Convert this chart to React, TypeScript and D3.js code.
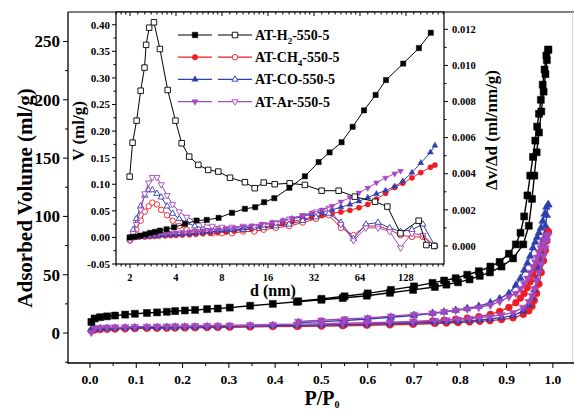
import React from 'react';
import * as d3 from 'd3';

// ---------------- main isotherm data ----------------
const adsP = [0.003, 0.01, 0.022, 0.037, 0.054, 0.076, 0.097, 0.123, 0.145, 0.166, 0.184, 0.205, 0.227, 0.253, 0.276, 0.302, 0.346, 0.395, 0.447, 0.5, 0.546, 0.598, 0.648, 0.698, 0.745, 0.77, 0.795, 0.82, 0.842, 0.864, 0.889, 0.914, 0.936, 0.948, 0.955, 0.96, 0.965, 0.97, 0.975, 0.98, 0.984, 0.987, 0.99];
const desP = [0.99, 0.986, 0.982, 0.978, 0.974, 0.97, 0.966, 0.962, 0.957, 0.951, 0.945, 0.938, 0.93, 0.92, 0.905, 0.885, 0.865, 0.84, 0.815, 0.79, 0.765, 0.74, 0.7, 0.65, 0.6, 0.55, 0.5, 0.45];

const h2Ads = [9.5, 12.5, 13.6, 14.3, 15, 15.8, 16.5, 17.2, 17.7, 18.2, 18.8, 19.3, 19.8, 20.5, 21, 21.8, 23.4, 25, 26.8, 28.5, 30, 32, 34.5, 37, 39.5, 41.5, 43.5, 46, 49, 52, 57, 64, 76, 92, 115, 135, 155, 172, 190, 207, 222, 234, 243];
const h2Des = [243, 238, 226, 213, 200, 188, 177, 165, 151, 135, 118, 100, 86, 76, 68, 61, 57, 53, 50, 47, 45, 43, 40, 37, 34, 31.5, 29.3, 27.2];
const ch4Ads = [2.0, 2.6, 3.0, 3.2, 3.4, 3.6, 3.8, 4.0, 4.1, 4.2, 4.3, 4.4, 4.5, 4.7, 4.8, 5.0, 5.2, 5.5, 5.8, 6.0, 6.3, 6.7, 7.0, 7.5, 8.2, 8.6, 9.0, 9.5, 10.0, 10.6, 11.5, 13, 16, 19, 23, 28, 34, 42, 52, 62, 71, 79, 87];
const ch4Des = [87, 85, 80, 75, 70, 65, 60, 55, 50, 44, 39, 34, 30, 26, 22, 18.5, 16, 14, 12.8, 11.8, 11, 10.3, 9.5, 8.6, 7.8, 7.2, 6.6, 6.0];
const coAds = [3.0, 3.5, 3.8, 4.0, 4.2, 4.4, 4.5, 4.7, 4.8, 4.9, 5.0, 5.1, 5.2, 5.4, 5.5, 5.7, 6.0, 6.3, 6.6, 6.9, 7.2, 7.6, 8.0, 8.5, 9.2, 9.6, 10.0, 10.6, 11.2, 12.0, 13.2, 15, 19, 24, 30, 37, 46, 56, 68, 80, 92, 101, 110];
const coDes = [110, 108, 102, 96, 90, 86, 82, 78, 73, 66, 60, 54, 47, 41, 34, 29.5, 26, 23, 21, 19.5, 18, 17, 15, 13.5, 12, 10.8, 9.8, 9.0];
const arAds = [0.5, 4.2, 4.6, 4.9, 5.1, 5.3, 5.5, 5.7, 5.8, 5.9, 6.0, 6.1, 6.2, 6.4, 6.5, 6.7, 7.0, 7.3, 7.6, 8.0, 8.4, 8.8, 9.3, 9.9, 10.7, 11.2, 11.8, 12.5, 13.3, 14.2, 15.6, 17.5, 22, 27, 32, 38, 45, 52, 59, 66, 73, 79, 84];
const arDes = [84, 83, 80, 77, 73, 69, 65, 61, 57, 52, 47, 42.5, 38, 34, 31, 27, 24, 22, 20.5, 19.5, 18.3, 17, 16, 14.5, 13, 12, 11, 10];

// ---------------- inset (pore size) data ----------------
const h2CumD = [1.99, 2.16, 2.33, 2.51, 2.70, 2.91, 3.14, 3.47, 3.88, 4.58, 5.46, 6.36, 7.6, 9.3, 11.3, 13.2, 15.1, 17.6, 22.1, 27.9, 34.3, 40.5, 48.5, 57.3, 68, 81, 94.7, 122.8, 155.5, 186];
const h2CumV = [0.000, 0.0015, 0.0034, 0.0058, 0.0085, 0.0104, 0.0128, 0.0153, 0.019, 0.0255, 0.0317, 0.033, 0.0368, 0.0462, 0.0538, 0.0568, 0.0662, 0.0738, 0.0934, 0.115, 0.1417, 0.16, 0.179, 0.208, 0.239, 0.268, 0.296, 0.327, 0.356, 0.385];
const h2PsdD = [1.99, 2.08, 2.21, 2.35, 2.49, 2.55, 2.67, 2.87, 3.14, 3.53, 3.97, 4.36, 4.88, 5.60, 6.50, 7.57, 9.03, 11.3, 13.1, 15.0, 17.7, 22.2, 27.9, 35.9, 46.4, 59.2, 80.2, 96.7, 117.8, 155, 174, 196];
const h2PsdR = [0.00384, 0.00572, 0.00694, 0.0086, 0.00988, 0.01114, 0.01209, 0.01239, 0.01091, 0.00864, 0.00694, 0.00569, 0.00495, 0.00449, 0.00421, 0.00412, 0.00378, 0.00353, 0.0032, 0.00351, 0.00342, 0.00347, 0.00338, 0.00306, 0.00306, 0.00273, 0.00245, 0.00218, 0.0007, 0.0014, 0.00005, 0.0];

const cumD = [2.0, 2.15, 2.3, 2.5, 2.7, 2.9, 3.1, 3.4, 3.7, 4.0, 4.4, 4.9, 5.4, 6.0, 6.7, 7.5, 8.5, 9.6, 11, 12.5, 14.5, 17, 20, 23, 27, 31, 36, 42, 48, 55, 63, 72, 82, 94, 108, 122, 140, 160, 185, 198];
const ch4CumV = [0.000, 0.0003, 0.0006, 0.001, 0.0015, 0.002, 0.0025, 0.003, 0.0035, 0.004, 0.0045, 0.005, 0.006, 0.007, 0.008, 0.009, 0.010, 0.012, 0.014, 0.016, 0.019, 0.022, 0.026, 0.030, 0.034, 0.038, 0.041, 0.045, 0.048, 0.051, 0.056, 0.062, 0.072, 0.083, 0.094, 0.102, 0.112, 0.122, 0.132, 0.136];
const coCumV = [0.000, 0.0005, 0.001, 0.0015, 0.002, 0.003, 0.0035, 0.004, 0.005, 0.0055, 0.006, 0.007, 0.008, 0.009, 0.010, 0.012, 0.013, 0.015, 0.017, 0.020, 0.023, 0.027, 0.031, 0.035, 0.039, 0.044, 0.048, 0.052, 0.057, 0.062, 0.068, 0.075, 0.082, 0.088, 0.096, 0.106, 0.122, 0.140, 0.160, 0.173];
const arCumD = [2.0, 2.15, 2.3, 2.5, 2.7, 2.9, 3.1, 3.4, 3.7, 4.0, 4.4, 4.9, 5.4, 6.0, 6.7, 7.5, 8.5, 9.6, 11, 12.5, 14.5, 17, 20, 23, 27, 31, 36, 42, 48, 55, 63, 72, 82, 94, 108, 118];
const arCumV = [0.000, 0.001, 0.002, 0.003, 0.004, 0.005, 0.006, 0.007, 0.008, 0.009, 0.010, 0.011, 0.012, 0.013, 0.014, 0.015, 0.017, 0.018, 0.020, 0.022, 0.025, 0.028, 0.032, 0.036, 0.041, 0.046, 0.052, 0.059, 0.067, 0.075, 0.084, 0.093, 0.103, 0.112, 0.120, 0.125];

const psdD = [2.0, 2.1, 2.2, 2.35, 2.5, 2.65, 2.8, 3.0, 3.2, 3.5, 3.8, 4.2, 4.7, 5.3, 6.0, 6.9, 8.0, 9.3, 11, 13, 15, 18, 22, 27, 33, 40, 48, 58, 70, 84, 100, 118, 140, 165, 198];
const ch4PsdR = [0.0003, 0.0006, 0.0009, 0.0014, 0.0019, 0.0022, 0.0024, 0.0023, 0.0020, 0.0017, 0.0014, 0.0011, 0.0009, 0.0008, 0.0008, 0.0007, 0.0007, 0.0007, 0.0008, 0.0008, 0.0009, 0.0010, 0.0011, 0.0013, 0.0015, 0.0017, 0.0010, 0.0006, 0.0011, 0.0011, 0.0009, 0.0006, 0.0005, 0.0005, 0.0];
const coPsdR = [0.0004, 0.0009, 0.0015, 0.0022, 0.0028, 0.0031, 0.0031, 0.0029, 0.0027, 0.0022, 0.0018, 0.0015, 0.0013, 0.0011, 0.0010, 0.0009, 0.0009, 0.0009, 0.0009, 0.0010, 0.0010, 0.0011, 0.0012, 0.0014, 0.0016, 0.0018, 0.0013, 0.0004, 0.0012, 0.0013, 0.0010, 0.0008, 0.0009, 0.0012, 0.0];
const arPsdR = [0.0003, 0.0007, 0.0012, 0.0020, 0.0029, 0.0035, 0.0038, 0.0038, 0.0034, 0.0028, 0.0023, 0.0019, 0.0016, 0.0014, 0.0012, 0.0011, 0.00105, 0.00105, 0.0011, 0.0011, 0.0012, 0.0013, 0.0015, 0.0017, 0.0019, 0.0021, 0.0012, 0.0003, 0.0010, 0.0010, 0.0008, -0.0001, 0.0007, 0.0006, 0.0];

// ---------------- ticks ----------------
const mainXTicks = [0, 0.1, 0.2, 0.3, 0.4, 0.5, 0.6, 0.7, 0.8, 0.9, 1.0];
const mainXMinor = [0.05, 0.15, 0.25, 0.35, 0.45, 0.55, 0.65, 0.75, 0.85, 0.95, 1.05];
const mainYTicks = [0, 50, 100, 150, 200, 250];
const mainYMinor = [-25, 25, 75, 125, 175, 225];
const inXTicks = [2, 4, 8, 16, 32, 64, 128];
const inXMinor = [1.625, 1.75, 1.875, 2.25, 2.5, 2.75, 3, 3.25, 3.5, 3.75, 4.5, 5, 5.5, 6, 6.5, 7, 7.5, 9, 10, 11, 12, 13, 14, 15, 18, 20, 22, 24, 26, 28, 30, 36, 40, 44, 48, 52, 56, 60, 72, 80, 88, 96, 104, 112, 120, 144, 160, 176, 192, 208, 224];
const inYLTicks = [-0.05, 0, 0.05, 0.1, 0.15, 0.2, 0.25, 0.3, 0.35, 0.4];
const inYLMinor = [-0.025, 0.025, 0.075, 0.125, 0.175, 0.225, 0.275, 0.325, 0.375];
const inYRTicks = [0, 0.002, 0.004, 0.006, 0.008, 0.01, 0.012];
const inYRMinor = [0.001, 0.003, 0.005, 0.007, 0.009, 0.011];

const legendNames = [
  ['AT-H', '2', '-550-5'],
  ['AT-CH', '4', '-550-5'],
  ['AT-CO', '', '-550-5'],
  ['AT-Ar', '', '-550-5'],
];

const FONT = '"Liberation Serif", "Times New Roman", Times, serif';
const BLACK = '#000000';
const RED = '#ee1d25';
const BLUE = '#2f3fae';
const PURPLE = '#a648bd';

const colors = [BLACK, RED, BLUE, PURPLE];
const shapes = ['square', 'circle', 'up', 'down'];

// ---------------- scales ----------------
const xMain = d3.scaleLinear().domain([-0.0475, 1.037]).range([68, 570]);
const yMain = d3.scaleLinear().domain([-25.7, 275.3]).range([363, 12]);
const xIn = d3.scaleLog().base(2).domain([1.62, 227]).range([116, 444]);
const yInL = d3.scaleLinear().domain([-0.05, 0.424]).range([264, 12]);
const yInR = d3.scaleLinear().domain([-0.001, 0.01296]).range([264, 12]);

function symPath(shape: string, size: number): string {
  let type: any = d3.symbolSquare;
  let area = size * size;
  if (shape === 'circle') {
    type = d3.symbolCircle;
    area = Math.PI * (size / 2) * (size / 2);
  } else if (shape === 'up' || shape === 'down') {
    type = d3.symbolTriangle;
    area = size * size * 0.55;
  }
  return d3.symbol().type(type).size(area)() || '';
}

function Marker({ shape, x, y, size, color, open }: any) {
  const rot = shape === 'down' ? 180 : 0;
  return (
    <path
      d={symPath(shape, size)}
      transform={`translate(${x},${y}) rotate(${rot})`}
      fill={open ? '#ffffff' : color}
      stroke={color}
      strokeWidth={open ? 0.9 : 0.5}
    />
  );
}

function Series({ xs, ys, xs2, color, shape, open, size, lw }: any) {
  const pts = xs.map((v: number, i: number) => [xs2(v), ys[i]] as [number, number]);
  const line = d3.line();
  return (
    <g>
      <path d={line(pts) || ''} fill="none" stroke={color} strokeWidth={lw} />
      {pts.map((p: [number, number], i: number) => (
        <Marker key={i} shape={shape} x={p[0]} y={p[1]} size={size} color={color} open={open} />
      ))}
    </g>
  );
}

export default function App() {
  const mainSeries = [
    { ads: h2Ads, des: h2Des },
    { ads: ch4Ads, des: ch4Des },
    { ads: coAds, des: coDes },
    { ads: arAds, des: arDes },
  ];
  const drawOrder = [1, 2, 3, 0];

  const cumSeries = [
    { d: h2CumD, v: h2CumV },
    { d: cumD, v: ch4CumV },
    { d: cumD, v: coCumV },
    { d: arCumD, v: arCumV },
  ];
  const psdSeries = [
    { d: h2PsdD, r: h2PsdR },
    { d: psdD, r: ch4PsdR },
    { d: psdD, r: coPsdR },
    { d: psdD, r: arPsdR },
  ];
  const inOrder = [1, 2, 3, 0];

  const tickStyle = { stroke: '#000', strokeWidth: 1 };

  return (
    <div style={{ position: 'absolute', left: 0, top: 0 }}>
      <svg width={574} height={412} viewBox="0 0 574 412" style={{ display: 'block', background: '#fff' }} fontFamily={FONT} fontWeight="bold">
        <rect x={0} y={0} width={574} height={412} fill="#fff" />

        {/* ---------- main curves ---------- */}
        {drawOrder.map((k) => {
          const s = mainSeries[k];
          const sz = k === 0 ? 7 : 6.8;
          return (
            <g key={k}>
              <Series xs={adsP} ys={s.ads.map((v) => yMain(v))} xs2={xMain} color={colors[k]} shape={shapes[k]} open={false} size={sz} lw={1.4} />
              <Series xs={desP} ys={s.des.map((v) => yMain(v))} xs2={xMain} color={colors[k]} shape={shapes[k]} open={false} size={sz} lw={1.4} />
            </g>
          );
        })}

        {/* ---------- main axes ---------- */}
        <line x1={68} y1={12} x2={574} y2={12} {...tickStyle} />
        <line x1={572.5} y1={12} x2={572.5} y2={363} stroke="#d8d8d8" strokeWidth={1} />
        <line x1={68} y1={12} x2={68} y2={363.5} stroke="#000" strokeWidth={1.3} />
        <line x1={67.5} y1={363} x2={574} y2={363} stroke="#000" strokeWidth={1.3} />
        {mainXTicks.map((t) => (
          <g key={'mx' + t}>
            <line x1={xMain(t)} x2={xMain(t)} y1={363} y2={368} {...tickStyle} />
            <text x={xMain(t)} y={384} textAnchor="middle" fontSize={13.5}>{t.toFixed(1)}</text>
          </g>
        ))}
        {mainXMinor.map((t) => (
          <line key={'mxm' + t} x1={xMain(t)} x2={xMain(t)} y1={363} y2={366} {...tickStyle} />
        ))}
        {mainYTicks.map((t) => (
          <g key={'my' + t}>
            <line x1={63} x2={68} y1={yMain(t)} y2={yMain(t)} {...tickStyle} />
            <text x={60} y={yMain(t)} dy="0.35em" textAnchor="end" fontSize={17}>{t}</text>
          </g>
        ))}
        {mainYMinor.map((t) => (
          <line key={'mym' + t} x1={65} x2={68} y1={yMain(t)} y2={yMain(t)} {...tickStyle} />
        ))}
        <text transform="translate(32,198) rotate(-90)" textAnchor="middle" fontSize={21}>Adsorbed Volume (ml/g)</text>
        <text x={322} y={405} textAnchor="middle" fontSize={20}>
          P/P<tspan dy={3} fontSize={10}>0</tspan>
        </text>

        {/* ---------- inset ---------- */}
        <rect x={116} y={12} width={328} height={252} fill="#fff" />
        {inOrder.map((k) => (
          <g key={'in' + k}>
            <Series xs={psdSeries[k].d} ys={psdSeries[k].r.map((v) => yInR(v))} xs2={xIn} color={colors[k]} shape={shapes[k]} open={true} size={5.5} lw={1} />
            <Series xs={cumSeries[k].d} ys={cumSeries[k].v.map((v) => yInL(v))} xs2={xIn} color={colors[k]} shape={shapes[k]} open={false} size={5.2} lw={1} />
          </g>
        ))}
        <rect x={116} y={12} width={328} height={252} fill="none" stroke="#000" strokeWidth={1.2} />
        {inXTicks.map((t) => (
          <g key={'ix' + t}>
            <line x1={xIn(t)} x2={xIn(t)} y1={264} y2={268} {...tickStyle} />
            <line x1={xIn(t)} x2={xIn(t)} y1={12} y2={16} {...tickStyle} />
            <text x={xIn(t)} y={281} textAnchor="middle" fontSize={10.5}>{t}</text>
          </g>
        ))}
        {inXMinor.map((t) => (
          <g key={'ixm' + t}>
            <line x1={xIn(t)} x2={xIn(t)} y1={264} y2={266.5} {...tickStyle} />
            <line x1={xIn(t)} x2={xIn(t)} y1={12} y2={14.5} {...tickStyle} />
          </g>
        ))}
        {inYLTicks.map((t) => (
          <g key={'il' + t}>
            <line x1={112} x2={116} y1={yInL(t)} y2={yInL(t)} {...tickStyle} />
            <text x={110} y={yInL(t)} dy="0.35em" textAnchor="end" fontSize={11}>{t.toFixed(2)}</text>
          </g>
        ))}
        {inYLMinor.map((t) => (
          <line key={'ilm' + t} x1={113.5} x2={116} y1={yInL(t)} y2={yInL(t)} {...tickStyle} />
        ))}
        {inYRTicks.map((t) => (
          <g key={'ir' + t}>
            <line x1={444} x2={448} y1={yInR(t)} y2={yInR(t)} {...tickStyle} />
            <text x={452} y={yInR(t)} dy="0.35em" textAnchor="start" fontSize={10.5}>{t.toFixed(3)}</text>
          </g>
        ))}
        {inYRMinor.map((t) => (
          <line key={'irm' + t} x1={444} x2={446.5} y1={yInR(t)} y2={yInR(t)} {...tickStyle} />
        ))}
        <text transform="translate(84,131) rotate(-90)" textAnchor="middle" fontSize={17}>V (ml/g)</text>
        <text transform="translate(497,130) rotate(-90)" textAnchor="middle" fontSize={17}>Δv/Δd (ml/nm/g)</text>
        <text x={273} y={296} textAnchor="middle" fontSize={16}>d (nm)</text>

        {/* ---------- legend ---------- */}
        {legendNames.map((nm, i) => {
          const ly = 35 + i * 22.2;
          return (
            <g key={'lg' + i}>
              <line x1={178} x2={212} y1={ly} y2={ly} stroke={colors[i]} strokeWidth={1.2} />
              <Marker shape={shapes[i]} x={195} y={ly} size={5.5} color={colors[i]} open={false} />
              <line x1={218} x2={252} y1={ly} y2={ly} stroke={colors[i]} strokeWidth={1.2} />
              <Marker shape={shapes[i]} x={235} y={ly} size={5.5} color={colors[i]} open={true} />
              <text x={255} y={ly} dy="0.35em" fontSize={14}>
                {nm[0]}
                {nm[1] ? <tspan dy={4} fontSize={9}>{nm[1]}</tspan> : null}
                {nm[1] ? <tspan dy={-4}>{nm[2]}</tspan> : nm[2]}
              </text>
            </g>
          );
        })}
      </svg>
    </div>
  );
}
